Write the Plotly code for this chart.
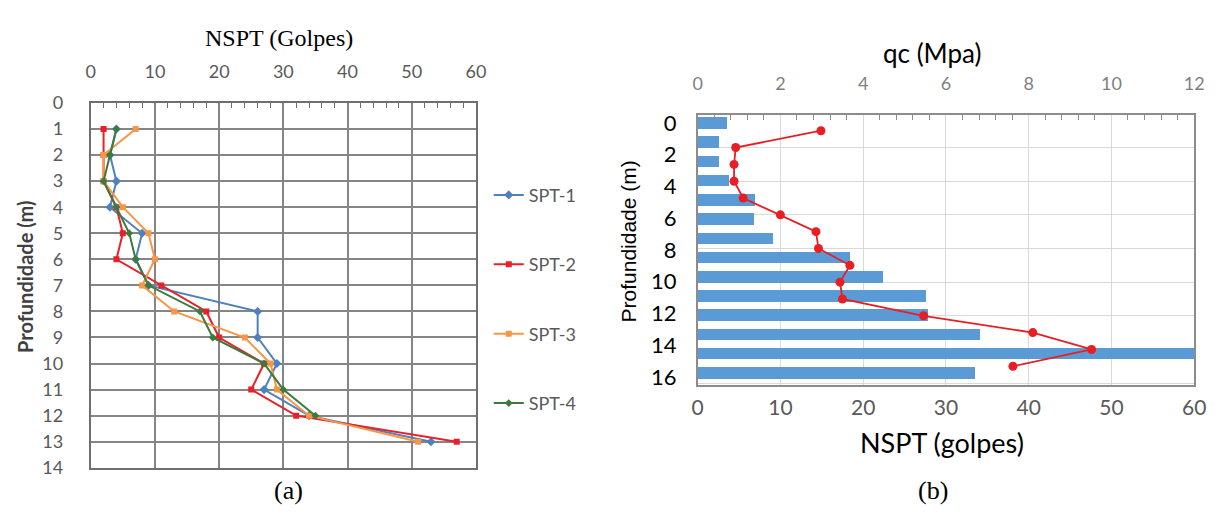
import plotly.graph_objects as go

W, H = 1219, 518

# ---------------- data (a) ----------------
depth_a = list(range(1, 14))
spt1 = [4, 3, 4, 3, 8, 7, 9, 26, 26, 29, 27, 34, 53]
spt2 = [2, 2, 2, 4, 5, 4, 11, 18, 20, 27, 25, 32, 57]
spt3 = [7, 2, 2, 5, 9, 10, 8, 13, 24, 28, 29, 34, 51]
depth_a4 = list(range(1, 13))
spt4 = [4, 3, 2, 4, 6, 7, 9, 17, 19, 27, 30, 35]

# ---------------- data (b) ----------------
bar_pos = list(range(1, 15))
qc_bars = [0.70, 0.50, 0.50, 0.74, 1.38, 1.36, 1.82, 3.68, 4.46, 5.50, 5.56, 6.82, 12.0, 6.70]
nspt_idx = list(range(1, 16))
nspt_b = [14.9, 4.6, 4.4, 4.4, 5.5, 10.0, 14.3, 14.6, 18.4, 17.2, 17.5, 27.3, 40.5, 47.6, 38.1]
depth_labels_b = [0, 2, 4, 6, 8, 10, 12, 14, 16]


def fx(px):
    return px / W


def fy(py):
    return 1 - py / H


TICKF = "Lato, Carlito, 'Open Sans', sans-serif"

fig = go.Figure()

series = [
    ("SPT-1", spt1, depth_a, "#4F81BD", "diamond", 7),
    ("SPT-2", spt2, depth_a, "#E8202A", "square", 6),
    ("SPT-3", spt3, depth_a, "#F79646", "square", 6),
    ("SPT-4", spt4, depth_a4, "#3D7A3D", "diamond", 6),
]
for name, xs, ys, col, sym, sz in series:
    fig.add_trace(go.Scatter(
        x=xs, y=ys, name=name, mode="lines+markers",
        line=dict(color=col, width=2),
        marker=dict(color=col, symbol=sym, size=sz),
        xaxis="x", yaxis="y", legendgroup=name, showlegend=True,
    ))

# bars: main subplot of (b)
fig.add_trace(go.Bar(
    x=qc_bars, y=bar_pos, orientation="h", width=0.6,
    marker=dict(color="#5B9BD5", line=dict(width=0)),
    xaxis="x2", yaxis="y2", showlegend=False,
))
# NSPT line: overlay subplot of (b), drawn on top of the bars
fig.add_trace(go.Scatter(
    x=nspt_b, y=nspt_idx, mode="lines+markers",
    line=dict(color="#E81E25", width=1.8),
    marker=dict(color="#E81E25", size=9),
    xaxis="x3", yaxis="y3", showlegend=False,
))

grid_a = "#858585"
frame_a = "#6f6f6f"

# pixel geometry of (b): line point i at 124 + 17.57*(i-1); depth label L at 116 + 16.5625*L
line_px0, line_step = 124.0, 17.57
lab_px0, lab_step = 116.0, 16.5625
bar_px0, bar_step = 116.3, 20.08
top_b, bot_b = 108.0, 390.0


def line_units(py):
    return 1 + (py - line_px0) / line_step


def bar_units(py):
    return 1 + (py - bar_px0) / bar_step


label_vals = [line_units(lab_px0 + lab_step * L) for L in depth_labels_b]

fig.update_layout(
    width=W, height=H, autosize=False,
    margin=dict(l=0, r=0, t=0, b=0),
    paper_bgcolor="white", plot_bgcolor="white",
    bargap=0,
    xaxis=dict(
        domain=[fx(86), fx(477)], anchor="y", side="top",
        range=[0, 60], dtick=10, showgrid=True, gridcolor=grid_a, gridwidth=1.8,
        showline=True, linecolor=frame_a, linewidth=1.8, mirror=True,
        ticks="", zeroline=False,
        minor=dict(ticks="inside", dtick=2, ticklen=5, tickcolor=frame_a, showgrid=False),
        tickfont=dict(family=TICKF, size=18, color="#595959"),
        ticklabelstandoff=16,
    ),
    yaxis=dict(
        domain=[fy(476), fy(95)], anchor="x",
        range=[14, 0], dtick=1, showgrid=True, gridcolor=grid_a, gridwidth=1.8,
        showline=True, linecolor=frame_a, linewidth=1.8, mirror=True,
        ticks="", zeroline=False,
        tickfont=dict(family=TICKF, size=18, color="#595959"),
        ticklabelstandoff=22,
    ),
    # (b) top qc axis (main)
    xaxis2=dict(
        domain=[fx(702), fx(1206)], anchor="y2", side="top",
        range=[0, 12], dtick=2, showgrid=False, zeroline=False,
        showline=True, linecolor="#8c8c8c", linewidth=1.5, mirror=True,
        ticks="",
        minor=dict(ticks="inside", dtick=0.4, ticklen=5, tickcolor="#8c8c8c", showgrid=False),
        tickfont=dict(family=TICKF, size=18, color="#7f7f7f"),
        ticklabelstandoff=16,
    ),
    # (b) bar axis (main) carrying horizontal gridlines
    yaxis2=dict(
        domain=[fy(bot_b), fy(top_b)], anchor="x2",
        range=[bar_units(bot_b), bar_units(top_b)],
        tick0=bar_units(line_px0 + line_step), dtick=2 * line_step / bar_step,
        showgrid=True, gridcolor="#d9d9d9", gridwidth=1,
        showticklabels=False, ticks="", zeroline=False,
        showline=True, linecolor="#8c8c8c", linewidth=1.5, mirror=True,
    ),
    # (b) bottom NSPT axis (overlay)
    xaxis3=dict(
        overlaying="x2", anchor="y2", side="bottom",
        range=[0, 60], dtick=10, showgrid=True, gridcolor="#d9d9d9", gridwidth=1,
        ticks="", zeroline=False, showline=False,
        tickfont=dict(family=TICKF, size=21, color="#595959"),
        ticklabelstandoff=8,
    ),
    # (b) depth axis (overlay) with the visible 0..16 labels
    yaxis3=dict(
        overlaying="y2", anchor="x2", side="left",
        range=[line_units(bot_b), line_units(top_b)],
        tickmode="array", tickvals=label_vals, ticktext=[str(v) for v in depth_labels_b],
        showgrid=False, zeroline=False, showline=False, ticks="",
        tickfont=dict(family=TICKF, size=22, color="#000000"),
        ticklabelstandoff=20,
    ),
    legend=dict(
        x=fx(490), y=fy(172), xanchor="left", yanchor="top",
        font=dict(family=TICKF, size=18, color="#595959"),
        tracegroupgap=43, bgcolor="rgba(0,0,0,0)", itemwidth=30,
    ),
)

ann = [
    dict(text="NSPT (Golpes)", x=fx(277), y=fy(27),
         font=dict(family="Liberation Serif, Times New Roman, serif", size=24, color="black")),
    dict(text="(a)", x=fx(287), y=fy(500),
         font=dict(family="Liberation Serif, Times New Roman, serif", size=26, color="black")),
    dict(text="(b)", x=fx(941), y=fy(500),
         font=dict(family="Liberation Serif, Times New Roman, serif", size=26, color="black")),
    dict(text="<b>Profundidade (m)</b>", x=fx(20), y=fy(276), textangle=-90,
         font=dict(family=TICKF, size=20, color="#404040")),
    dict(text="qc (Mpa)", x=fx(940), y=fy(43),
         font=dict(family=TICKF, size=26, color="black")),
    dict(text="NSPT (golpes)", x=fx(950), y=fy(450),
         font=dict(family=TICKF, size=27, color="black")),
    dict(text="Profundidade (m)", x=fx(632), y=fy(240), textangle=-90,
         font=dict(family="Liberation Sans Narrow, Arial Narrow, sans-serif", size=21, color="black")),
]
for a in ann:
    a.update(xref="paper", yref="paper", showarrow=False, xanchor="center", yanchor="middle")
fig.update_layout(annotations=ann)

fig.write_html(
    "out.html",
    post_script="document.body.style.margin='0';document.body.style.overflow='hidden';",
)
